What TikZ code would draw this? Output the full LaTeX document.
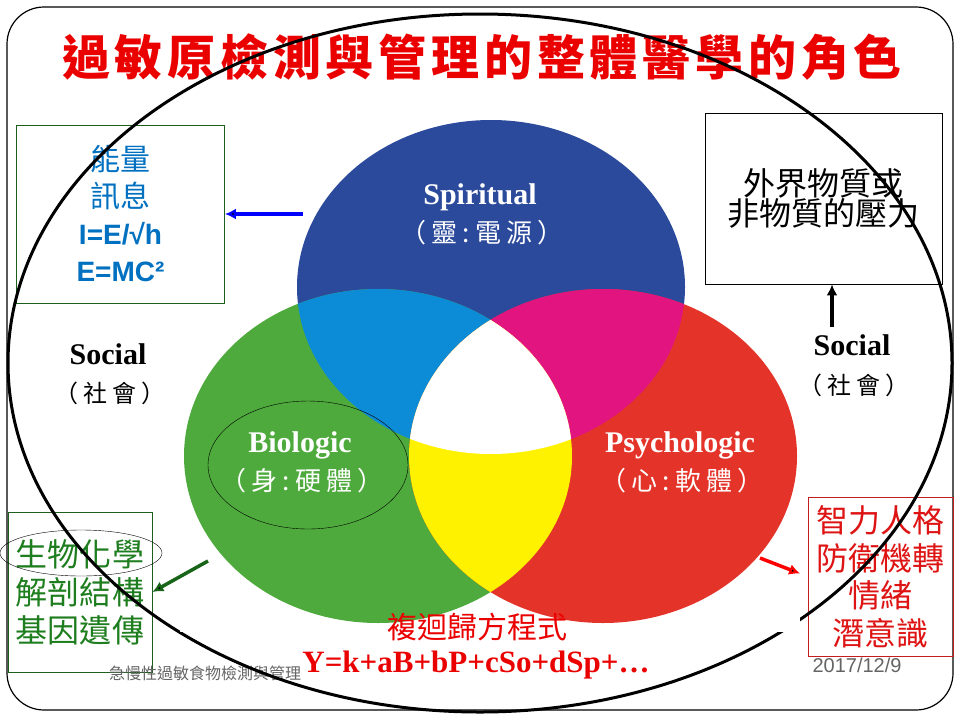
\documentclass[tikz,border=0pt]{standalone}
\usepackage{fontspec}
\setmainfont{Liberation Serif}
\setsansfont{Liberation Sans}
\newfontfamily\cjk{Noto Sans CJK TC}
\newfontfamily\cjkwide{Noto Sans CJK TC}[LetterSpace=10]
\newfontfamily\cjkspaced{Noto Sans CJK TC}[LetterSpace=20]
\usepackage{xcolor}
\definecolor{TITLECOLOR}{RGB}{235,0,0}
\definecolor{ENERGYCOLOR}{RGB}{0,112,192}
\definecolor{BIOBOXCOLOR}{RGB}{30,95,30}
\definecolor{BIOTEXTCOLOR}{RGB}{30,125,30}
\definecolor{PSYCOLOR}{RGB}{222,20,20}
\definecolor{PSYBOXCOLOR}{RGB}{195,30,30}
\definecolor{SPIRITFILL}{RGB}{44,74,156}
\definecolor{BIOFILL}{RGB}{78,170,60}
\definecolor{PSYFILL}{RGB}{228,52,42}
\definecolor{CYANFILL}{RGB}{12,140,215}
\definecolor{MAGENTAFILL}{RGB}{226,20,128}
\definecolor{YELLOWFILL}{RGB}{255,242,0}
\definecolor{FOOTCOLOR}{RGB}{100,100,100}
\usepackage{tikz}
\usetikzlibrary{arrows.meta,positioning,calc}
\tikzset{
  frame-style/.style = {
    draw, line width=1.2pt, rounded corners=37pt
  },
  ring-style/.style = {
    draw, line width=3pt
  },
  box-style/.style = {
    rectangle, draw=#1, line width=0.8pt,
    inner sep=0pt, align=center
  },
  title-style/.style = {
    font=\cjkwide\bfseries\fontsize{48}{48}\selectfont,
    text=TITLECOLOR, inner sep=0pt
  },
  cjk-style/.style = {
    font=\cjk\fontsize{#1}{#1}\selectfont, inner sep=0pt
  },
  note-style/.style = {
    font=\cjkspaced\fontsize{#1}{#1}\selectfont, inner sep=0pt
  },
  latin-style/.style = {
    font=\bfseries\fontsize{#1}{#1}\selectfont, inner sep=0pt, anchor=base
  },
  venn-size/.style = {
    x radius=194, y radius=167
  },
  arrow-style/.style = {
    draw=#1, line width=3.5pt
  },
  every edge/.style = {draw, -{Latex[length=11pt,width=11pt]}}
}

\begin{document}
\begin{tikzpicture}[x=1pt,y=-1pt]
    \useasboundingbox (0,0) rectangle (960,720);
    \draw[frame-style] (7,7) rectangle (953,710);

    %%% title
    \node[title-style] (title) at (482,57) {過敏原檢測與管理的整體醫學的角色};

    %%% side boxes
    \node[box-style=BIOBOXCOLOR, minimum width=208, minimum height=178,
          text=ENERGYCOLOR, font=\cjk\fontsize{30}{37}\selectfont] (energyBox) at (120.5,214)
      {能量\\訊息\\{\sffamily\bfseries\fontsize{28}{37}\selectfont I=E/√h}\\{\sffamily\bfseries\fontsize{28}{37}\selectfont E=MC²}};
    \node[box-style=black, minimum width=237, minimum height=171,
          font=\cjk\fontsize{32}{30}\selectfont] (extBox) at (823.5,198.5)
      {外界物質或\\非物質的壓力};
    \node[box-style=BIOBOXCOLOR, minimum width=144, minimum height=160,
          text=BIOTEXTCOLOR, font=\cjk\fontsize{32}{38}\selectfont] (bioBox) at (80,592)
      {生物化學\\解剖結構\\基因遺傳};
    \node[box-style=PSYBOXCOLOR, minimum width=145, minimum height=159,
          text=PSYCOLOR, font=\cjk\fontsize{32}{37.5}\selectfont] (psyBox) at (880.5,576.5)
      {智力人格\\防衛機轉\\情緒\\潛意識};
    \draw[thin] (81,553) ellipse [x radius=81, y radius=23];

    %%% social
    \node[latin-style=30] (socialLeft) at (108,364) {Social};
    \node[note-style=24] (socialLeftNote) at (110,393) {（社會）};
    \node[latin-style=30] (socialRight) at (852,355) {Social};
    \node[note-style=24] (socialRightNote) at (854,385) {（社會）};

    %%% footer
    \node[cjk-style=16, text=FOOTCOLOR] (footer) at (205,673) {急慢性過敏食物檢測與管理};
    \node[font=\sffamily\fontsize{20}{20}\selectfont, text=FOOTCOLOR, inner sep=0pt, anchor=base] (date) at (857,672) {2017/12/9};

    %%% outer ring
    \begin{scope}[even odd rule]
      \clip (0,0) rectangle (960,720) (180,560) rectangle (800,632);
      \draw[ring-style] (480,363) ellipse [x radius=472, y radius=349];
    \end{scope}

    %%% venn
    \coordinate (spiritC) at (491,287);
    \coordinate (bioC) at (378,456);
    \coordinate (psyC) at (603,456);
    \fill[SPIRITFILL] (spiritC) ellipse [venn-size];
    \fill[BIOFILL] (bioC) ellipse [venn-size];
    \fill[PSYFILL] (psyC) ellipse [venn-size];
    \begin{scope}
      \clip (spiritC) ellipse [venn-size];
      \fill[CYANFILL] (bioC) ellipse [venn-size];
      \fill[MAGENTAFILL] (psyC) ellipse [venn-size];
    \end{scope}
    \begin{scope}
      \clip (bioC) ellipse [venn-size];
      \fill[YELLOWFILL] (psyC) ellipse [venn-size];
      \clip (psyC) ellipse [venn-size];
      \fill[white] (spiritC) ellipse [venn-size];
    \end{scope}

    \node[latin-style=30, text=white] (spiritName) at (480,204) {Spiritual};
    \node[note-style=26, text=white] (spiritNote) at (482,233) {（靈:電源）};
    \node[latin-style=30, text=white] (bioName) at (300,452) {Biologic};
    \node[note-style=26, text=white] (bioNote) at (302,481) {（身:硬體）};
    \node[latin-style=30, text=white] (psyName) at (680,452) {Psychologic};
    \node[note-style=26, text=white] (psyNote) at (682,481) {（心:軟體）};
    \draw[thin] (308,465) ellipse [x radius=100, y radius=64];

    %%% formula
    \node[cjk-style=30, text=TITLECOLOR] (formulaTitle) at (477,627) {複迴歸方程式};
    \node[latin-style=31, text=TITLECOLOR] (formula) at (476,672) {Y=k+aB+bP+cSo+dSp+…};

    %%% arrows
    \coordinate (spiritTail) at (303,214);
    \coordinate (bioTail) at (208,561);
    \coordinate (psyTail) at (760,558);
    \coordinate (socialTail) at (832,327);
    \path[arrow-style=blue] (spiritTail) edge (energyBox.east);
    \path[arrow-style=BIOTEXTCOLOR!80!black] (bioTail) edge (bioBox.east);
    \path[arrow-style=red] (psyTail) edge[shorten >=8pt] (psyBox.west);
    \path[arrow-style=black] (socialTail) edge (socialTail |- extBox.south);
\end{tikzpicture}
\end{document}
